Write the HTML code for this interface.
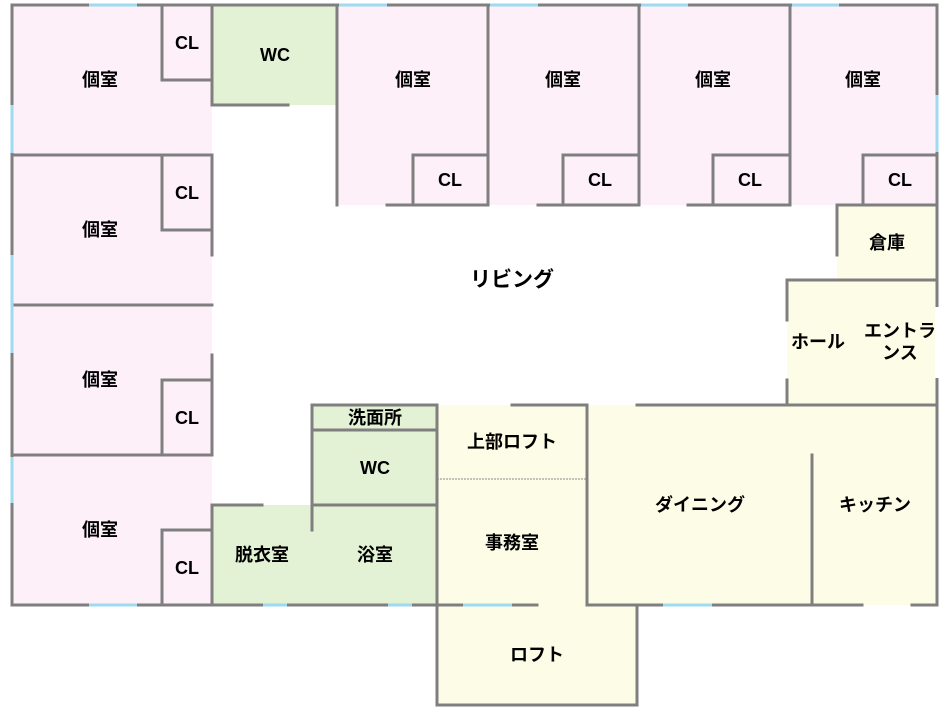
<!DOCTYPE html>
<html><head><meta charset="utf-8"><style>
html,body{margin:0;padding:0;background:#fff}
svg text{font-family:"Liberation Sans","Noto Sans CJK JP",sans-serif;font-weight:bold;font-size:18px;fill:#000;text-anchor:middle;dominant-baseline:central}
</style></head><body>
<svg width="948" height="712" viewBox="0 0 948 712" xmlns="http://www.w3.org/2000/svg">
<g stroke="none">
<rect x="12" y="5" width="200" height="600" fill="#fdf0f9"/>
<rect x="212" y="5" width="125" height="100" fill="#e3f1d5"/>
<rect x="337" y="5" width="600" height="200" fill="#fdf0f9"/>
<rect x="837" y="205" width="100" height="75" fill="#fdfde7"/>
<rect x="787" y="280" width="150" height="125" fill="#fdfde7"/>
<rect x="437" y="405" width="500" height="200" fill="#fdfde7"/>
<rect x="437" y="605" width="200" height="100" fill="#fdfde7"/>
<rect x="312" y="405" width="125" height="200" fill="#e3f1d5"/>
<rect x="212" y="505" width="100" height="100" fill="#e3f1d5"/>
</g>
<g stroke="#7f7f7f" stroke-width="3" fill="none" stroke-linecap="square">
<line x1="12" y1="5" x2="12" y2="605"/>
<line x1="12" y1="5" x2="937" y2="5"/>
<line x1="12" y1="605" x2="437" y2="605"/>
<line x1="937" y1="5" x2="937" y2="605"/>
<line x1="12" y1="155" x2="212" y2="155"/>
<line x1="12" y1="305" x2="212" y2="305"/>
<line x1="12" y1="455" x2="212" y2="455"/>
<line x1="212" y1="5" x2="212" y2="105"/>
<line x1="212" y1="155" x2="212" y2="255"/>
<line x1="212" y1="355" x2="212" y2="455"/>
<line x1="212" y1="505" x2="212" y2="605"/>
<polyline points="162,5 162,80 212,80"/>
<polyline points="162,155 162,230 212,230"/>
<polyline points="162,455 162,380 212,380"/>
<polyline points="162,605 162,530 212,530"/>
<line x1="212" y1="105" x2="288" y2="105"/>
<line x1="337" y1="5" x2="337" y2="205"/>
<line x1="488" y1="5" x2="488" y2="205"/>
<line x1="639" y1="5" x2="639" y2="205"/>
<line x1="790" y1="5" x2="790" y2="205"/>
<line x1="387" y1="205" x2="488" y2="205"/>
<line x1="538" y1="205" x2="639" y2="205"/>
<line x1="688" y1="205" x2="790" y2="205"/>
<line x1="840" y1="205" x2="937" y2="205"/>
<polyline points="413,205 413,155 488,155"/>
<polyline points="563,205 563,155 639,155"/>
<polyline points="713,205 713,155 790,155"/>
<polyline points="863,205 863,155 937,155"/>
<line x1="837" y1="205" x2="837" y2="255"/>
<line x1="787" y1="280" x2="937" y2="280"/>
<line x1="787" y1="280" x2="787" y2="320"/>
<line x1="787" y1="380" x2="787" y2="405"/>
<line x1="637" y1="405" x2="937" y2="405"/>
<line x1="587" y1="405" x2="587" y2="605"/>
<line x1="812" y1="455" x2="812" y2="605"/>
<line x1="587" y1="605" x2="862" y2="605"/>
<line x1="912" y1="605" x2="937" y2="605"/>
<polyline points="312,530 312,405 437,405 437,705 637,705 637,605"/>
<line x1="312" y1="430" x2="437" y2="430"/>
<line x1="312" y1="505" x2="437" y2="505"/>
<line x1="212" y1="505" x2="262" y2="505"/>
<line x1="512" y1="405" x2="587" y2="405"/>
<line x1="437" y1="605" x2="537" y2="605"/>
<line x1="587" y1="605" x2="637" y2="605"/>
</g>
<line x1="437" y1="479" x2="587" y2="479" stroke="#888" stroke-width="1" stroke-dasharray="2,1"/>
<g stroke="#9fdbf0" stroke-width="3">
<line x1="89" y1="5" x2="137" y2="5"/>
<line x1="339" y1="5" x2="387" y2="5"/>
<line x1="490" y1="5" x2="538" y2="5"/>
<line x1="641" y1="5" x2="688" y2="5"/>
<line x1="792" y1="5" x2="839" y2="5"/>
<line x1="937" y1="95" x2="937" y2="152"/>
<line x1="12" y1="105" x2="12" y2="153"/>
<line x1="12" y1="255" x2="12" y2="353"/>
<line x1="12" y1="457" x2="12" y2="503"/>
<line x1="89" y1="605" x2="137" y2="605"/>
<line x1="263" y1="605" x2="287" y2="605"/>
<line x1="388" y1="605" x2="412" y2="605"/>
<line x1="463" y1="605" x2="512" y2="605"/>
<line x1="663" y1="605" x2="712" y2="605"/>
</g>
<g stroke="#fff" stroke-width="4">
<line x1="937" y1="307" x2="937" y2="378"/>
</g>
<text x="100" y="80">個室</text>
<text x="100" y="230">個室</text>
<text x="100" y="380">個室</text>
<text x="100" y="530">個室</text>
<text x="187" y="43">CL</text>
<text x="187" y="193">CL</text>
<text x="187" y="418">CL</text>
<text x="187" y="568">CL</text>
<text x="275" y="55">WC</text>
<text x="413" y="80">個室</text>
<text x="563" y="80">個室</text>
<text x="713" y="80">個室</text>
<text x="863" y="80">個室</text>
<text x="450" y="180">CL</text>
<text x="600" y="180">CL</text>
<text x="750" y="180">CL</text>
<text x="900" y="180">CL</text>
<text x="512" y="280" style="font-size:21px">リビング</text>
<text x="887" y="243">倉庫</text>
<text x="818" y="342">ホール</text>
<text x="900" y="331">エントラ</text>
<text x="900" y="353">ンス</text>
<text x="375" y="418">洗面所</text>
<text x="375" y="468">WC</text>
<text x="262" y="555">脱衣室</text>
<text x="375" y="555">浴室</text>
<text x="512" y="442">上部ロフト</text>
<text x="512" y="543">事務室</text>
<text x="537" y="655">ロフト</text>
<text x="700" y="505">ダイニング</text>
<text x="875" y="505">キッチン</text>
</svg>
</body></html>
